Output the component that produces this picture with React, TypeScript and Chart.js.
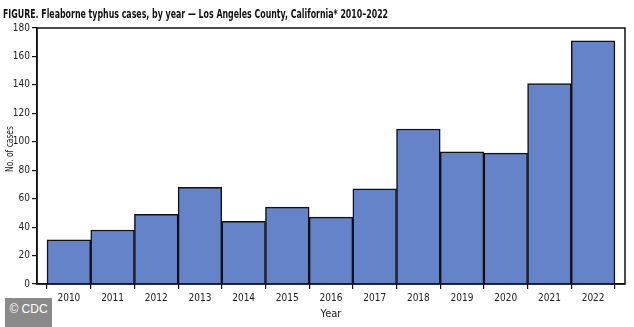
import React, { useEffect, useRef } from "react";
import { Chart, registerables } from "chart.js";

Chart.register(...registerables);

const years = [2010, 2011, 2012, 2013, 2014, 2015, 2016, 2017, 2018, 2019, 2020, 2021, 2022];
const cases = [31, 38, 49, 68, 44, 54, 47, 67, 109, 93, 92, 141, 171];
const yTicks = [0, 20, 40, 60, 80, 100, 120, 140, 160, 180];

const TITLE = "FIGURE. Fleaborne typhus cases, by year \u2014 Los Angeles County, California* 2010\u20132022";
const Y_TITLE = "No. of cases";
const FONT = "'DejaVu Sans Condensed', 'Open Sans', sans-serif";

const framePlugin = {
  id: "frame",
  afterDatasetsDraw(chart: any) {
    const { ctx, chartArea } = chart;
    ctx.save();
    ctx.strokeStyle = "#111";
    ctx.lineWidth = 1.5;
    ctx.strokeRect(chartArea.left, chartArea.top, chartArea.right - chartArea.left, chartArea.bottom - chartArea.top);
    ctx.restore();
  },
};

const yTitlePlugin = {
  id: "yTitle",
  afterDraw(chart: any) {
    const { ctx, chartArea } = chart;
    ctx.save();
    ctx.translate(10, chartArea.top + (chartArea.bottom - chartArea.top) / 2 - 7);
    ctx.rotate(-Math.PI / 2);
    ctx.scale(0.8, 1);
    ctx.font = `10.5px ${FONT}`;
    ctx.fillStyle = "#222";
    ctx.textAlign = "center";
    ctx.textBaseline = "middle";
    ctx.fillText(Y_TITLE, 0, 0);
    ctx.restore();
  },
};

export default function App() {
  const ref = useRef<HTMLCanvasElement>(null);
  useEffect(() => {
    document.body.style.margin = "0";
    const chart = new Chart(ref.current!, {
      type: "bar",
      data: {
        datasets: [
          {
            data: years.map((y, i) => ({ x: y, y: cases[i] })),
            backgroundColor: "rgb(101,131,200)",
            borderColor: "#111",
            borderWidth: 1.5,
            barPercentage: 1,
            categoryPercentage: 1,
          },
        ],
      },
      options: {
        animation: false,
        responsive: false,
        maintainAspectRatio: false,
        layout: { padding: { top: 28, right: 9, left: 0, bottom: 0 } },
        plugins: { legend: { display: false }, tooltip: { enabled: false } },
        scales: {
          x: {
            type: "linear",
            min: 2009.27,
            max: 2022.73,
            offset: false,
            afterBuildTicks: (s: any) => {
              s.ticks = years.map((v) => ({ value: v }));
            },
            afterFit: (s: any) => {
              s.height = 43;
            },
            grid: { drawOnChartArea: false, drawTicks: true, tickLength: 5, color: "#111", lineWidth: 1.2 },
            border: { display: true, color: "#111", width: 1.5 },
            ticks: {
              color: "#222",
              font: { family: FONT, size: 10 },
              padding: 3,
              maxRotation: 0,
              autoSkip: false,
              callback: (v: any) => String(v),
            },
            title: {
              display: true,
              text: "Year",
              color: "#222",
              font: { family: FONT, size: 11 },
              padding: { top: 0, bottom: 6 },
            },
          },
          y: {
            min: 0,
            max: 180,
            afterBuildTicks: (s: any) => {
              s.ticks = yTicks.map((v) => ({ value: v }));
            },
            afterFit: (s: any) => {
              s.width = 37;
            },
            grid: { drawOnChartArea: false, drawTicks: true, tickLength: 5, color: "#111", lineWidth: 1.2 },
            border: { display: true, color: "#111", width: 1.5 },
            ticks: {
              color: "#222",
              font: { family: FONT, size: 10 },
              padding: 2,
            },
          },
        },
      },
      plugins: [framePlugin, yTitlePlugin],
    } as any);
    return () => chart.destroy();
  }, []);
  return (
    <div style={{ position: "relative", width: 634, height: 327, background: "#fff", overflow: "hidden" }}>
      <canvas ref={ref} width={634} height={327} style={{ display: "block" }} />
      <div
        style={{
          position: "absolute",
          left: 3,
          top: 7,
          fontFamily: FONT,
          fontWeight: "bold",
          fontSize: 11.5,
          color: "#111",
          whiteSpace: "nowrap",
          transform: "scaleX(0.76)",
          transformOrigin: "left top",
        }}
      >
        {TITLE}
      </div>
      <div
        style={{
          position: "absolute",
          left: 5,
          top: 298,
          width: 47,
          height: 29,
          background: "#8a8a8a",
          color: "#fff",
          fontFamily: "'Liberation Sans', Arial, sans-serif",
          fontSize: 12,
          lineHeight: "22px",
          textAlign: "center",
        }}
      >
        {"\u00A9 CDC"}
      </div>
    </div>
  );
}
